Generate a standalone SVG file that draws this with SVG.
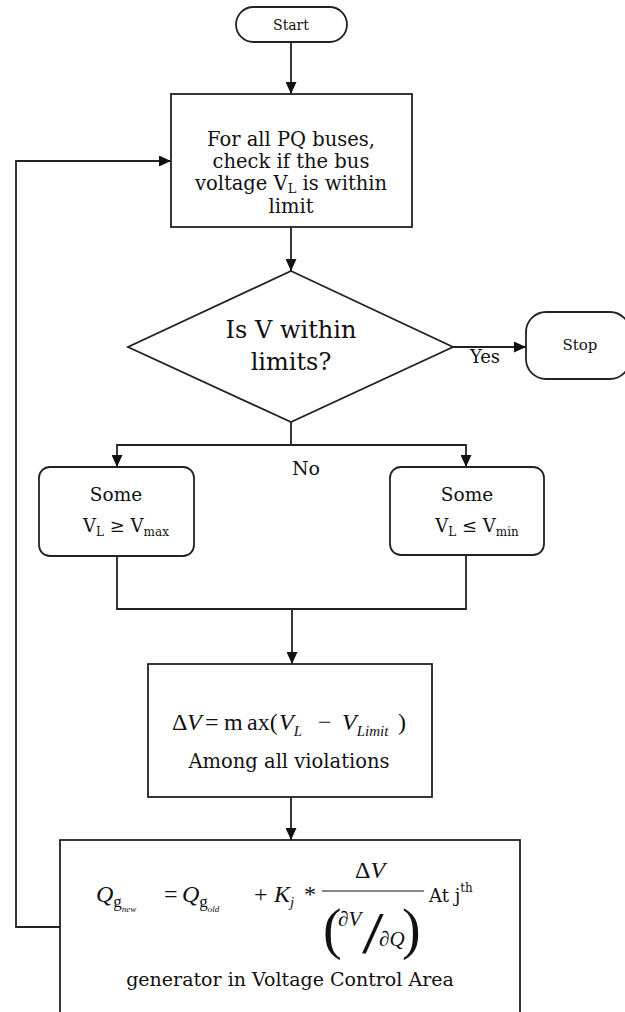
<svg xmlns="http://www.w3.org/2000/svg" width="625" height="1012" viewBox="0 0 625 1012">
<style>
.box{fill:#fff;stroke:#222;stroke-width:1.8}
.con{fill:none;stroke:#222;stroke-width:1.8}
.t{font-family:"DejaVu Serif","Liberation Serif",serif;fill:#111;text-anchor:middle}
.ts{font-family:"DejaVu Serif","Liberation Serif",serif;fill:#111;text-anchor:start}
.m{font-family:"Liberation Serif","Times New Roman",serif;fill:#111}
.i{font-style:italic}
</style>
<defs>
<marker id="ah" viewBox="0 0 12 11" refX="12" refY="5.5" markerWidth="12" markerHeight="11" markerUnits="userSpaceOnUse" orient="auto">
<path d="M0,0 L12,5.5 L0,11 z" fill="#111"/>
</marker>
</defs>
<rect width="625" height="1012" fill="#fff"/>
<g id="connectors">
<path class="con" d="M291,42 V94" marker-end="url(#ah)"/>
<path class="con" d="M291,227 V271" marker-end="url(#ah)"/>
<path class="con" d="M453,347 H526" marker-end="url(#ah)"/>
<path class="con" d="M291,422 V445 H117 V467" marker-end="url(#ah)"/>
<path class="con" d="M291,445 H466 V467" marker-end="url(#ah)"/>
<path class="con" d="M117,556 V609 H466 V555"/>
<path class="con" d="M292,609 V664" marker-end="url(#ah)"/>
<path class="con" d="M291,797 V840" marker-end="url(#ah)"/>
<path class="con" d="M60,927 H16 V161 H171" marker-end="url(#ah)"/>
<text class="t" x="485" y="363" font-size="18">Yes</text>
<text class="t" x="306" y="475" font-size="19">No</text>
</g>
<g id="start">
<rect class="box" x="236" y="7" width="111" height="35" rx="17.5"/>
<text class="t" x="291" y="30" font-size="14">Start</text>
</g>
<g id="check">
<rect class="box" x="171" y="94" width="241" height="133"/>
<text class="t" x="291" y="146" font-size="19.5">For all PQ buses,</text>
<text class="t" x="291" y="168" font-size="19.5">check if the bus</text>
<text class="t" x="291" y="190" font-size="19.5">voltage V<tspan font-size="13" dy="3">L</tspan><tspan dy="-3"> is within</tspan></text>
<text class="t" x="291" y="213" font-size="19.5">limit</text>
</g>
<g id="decision">
<polygon class="box" points="291,271 453,347 291,422 128,347"/>
<text class="t" x="291" y="338" font-size="24">Is V within</text>
<text class="t" x="291" y="370" font-size="24">limits?</text>
</g>
<g id="stop">
<rect class="box" x="526" y="312" width="104" height="67" rx="20"/>
<text class="t" x="580" y="350" font-size="15">Stop</text>
</g>
<g id="over">
<rect class="box" x="39" y="467" width="155" height="89" rx="11"/>
<text class="t" x="116" y="501" font-size="18.5">Some</text>
<text class="t" x="126" y="532" font-size="18">V<tspan font-size="12" dy="4">L</tspan><tspan dy="-4"> ≥ V</tspan><tspan font-size="12" dy="4">max</tspan></text>
</g>
<g id="under">
<rect class="box" x="390" y="467" width="154" height="88" rx="11"/>
<text class="t" x="467" y="501" font-size="18.5">Some</text>
<text class="t" x="477" y="532" font-size="18">V<tspan font-size="12" dy="4">L</tspan><tspan dy="-4"> ≤ V</tspan><tspan font-size="12" dy="4">min</tspan></text>
</g>
<g id="deltav">
<rect class="box" x="148" y="664" width="284" height="133"/>
<text class="m" x="172" y="730" font-size="24">Δ<tspan class="i" x="187">V</tspan><tspan x="205">=</tspan><tspan x="224">m</tspan><tspan x="247">ax(</tspan><tspan class="i" x="279">V</tspan><tspan class="i" font-size="15" dy="6">L</tspan><tspan x="318" dy="-6">−</tspan><tspan class="i" x="342">V</tspan><tspan class="i" font-size="15" dy="6">Limit</tspan><tspan x="398" dy="-6">)</tspan></text>
<text class="t" x="289" y="768" font-size="19.5">Among all violations</text>
</g>
<g id="update">
<rect class="box" x="60" y="840" width="460" height="200"/>
<text class="m" x="96" y="902" font-size="24"><tspan class="i">Q</tspan><tspan font-size="17" dy="5">g</tspan><tspan class="i" font-size="9" dy="5">new</tspan><tspan x="164" dy="-10">=</tspan><tspan class="i" x="182">Q</tspan><tspan font-size="17" dy="5">g</tspan><tspan class="i" font-size="9" dy="5">old</tspan><tspan x="254" dy="-10">+</tspan><tspan class="i" x="274">K</tspan><tspan class="i" font-size="15" dy="5">j</tspan><tspan x="304" dy="-5">*</tspan></text>
<text class="m" x="370" y="878" font-size="24" text-anchor="middle">Δ<tspan class="i">V</tspan></text>
<line x1="322" y1="891" x2="424" y2="891" stroke="#111" stroke-width="1.2"/>
<text class="m" x="323" y="948" font-size="56">(</text>
<text class="m" x="402" y="948" font-size="56">)</text>
<text class="m" x="338" y="926" font-size="21">∂<tspan class="i">V</tspan></text>
<text class="m" transform="translate(362,953) scale(1.3,1)" font-size="60">/</text>
<text class="m" x="379" y="946" font-size="21">∂<tspan class="i">Q</tspan></text>
<text class="ts" x="429" y="902" font-size="18">At j<tspan font-size="12" dy="-10">th</tspan></text>
<text class="t" x="290" y="986" font-size="19">generator in Voltage Control Area</text>
</g>
</svg>
